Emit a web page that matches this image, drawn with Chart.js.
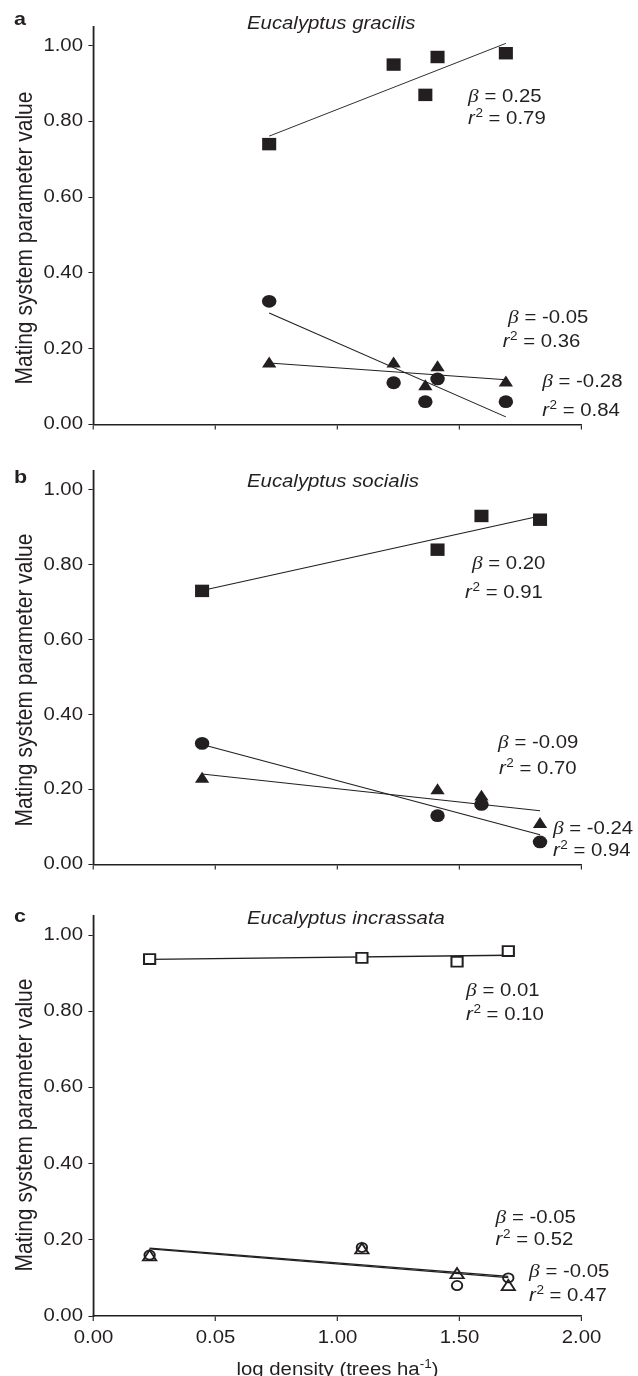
<!DOCTYPE html>
<html>
<head>
<meta charset="utf-8">
<script src="https://cdn.jsdelivr.net/npm/chart.js@4.4.0/dist/chart.umd.min.js"></script>
<style>
  html, body { margin: 0; padding: 0; background: #fff; }
  .panel { position: absolute; left: 0; width: 638px; }
  canvas { display: block; }
</style>
</head>
<body>
<div class="panel" style="top:0;height:440px"><canvas id="chartA" width="638" height="440"></canvas></div>
<div class="panel" style="top:440px;height:440px"><canvas id="chartB" width="638" height="440"></canvas></div>
<div class="panel" style="top:880px;height:496px"><canvas id="chartC" width="638" height="496"></canvas></div>
<script>
// tick labels (the 0.5 tick really reads "0.05" in the figure)
const xTickValues = [0, 0.5, 1, 1.5, 2];
const xTickLabels = ['0.00', '0.05', '1.00', '1.50', '2.00'];
const yTickValues = [0, 0.2, 0.4, 0.6, 0.8, 1.0];

// a - Eucalyptus gracilis
const gracilisX = [0.72, 1.23, 1.36, 1.41, 1.69];
const gracilisSquare = [0.74, 0.95, 0.87, 0.97, 0.98];
const gracilisCircle = [0.325, 0.11, 0.06, 0.12, 0.06];
const gracilisTriangle = [0.16, 0.16, 0.10, 0.15, 0.11];
const gracilisFitX = [0.72, 1.69];
const gracilisFitSquare = [0.761, 1.006];
const gracilisFitCircle = [0.294, 0.020];
const gracilisFitTriangle = [0.162, 0.118];
const gracilisBeta = ['0.25', '-0.05', '-0.28'];
const gracilisR2 = ['0.79', '0.36', '0.84'];

// b - Eucalyptus socialis
const socialisX = [0.445, 1.41, 1.59, 1.83];
const socialisSquare = [0.73, 0.84, 0.93, 0.92];
const socialisCircle = [0.323, 0.13, 0.16, 0.06];
const socialisTriangle = [0.228, 0.197, 0.18, 0.107];
const socialisFitX = [0.445, 1.83];
const socialisFitSquare = [0.731, 0.930];
const socialisFitCircle = [0.320, 0.079];
const socialisFitTriangle = [0.241, 0.143];
const socialisBeta = ['0.20', '-0.09', '-0.24'];
const socialisR2 = ['0.91', '0.70', '0.94'];

// c - Eucalyptus incrassata
const incrassataX = [0.23, 1.10, 1.49, 1.70];
const incrassataSquare = [0.937, 0.94, 0.93, 0.958];
const incrassataCircle = [0.16, 0.18, 0.08, 0.10];
const incrassataTriangle = [0.155, 0.173, 0.108, 0.077];
const incrassataFitX = [0.23, 1.70];
const incrassataFitSquare = [0.936, 0.947];
const incrassataFitCircle = [0.178, 0.104];
const incrassataFitTriangle = [0.176, 0.101];
const incrassataBeta = ['0.01', '-0.05', '-0.05'];
const incrassataR2 = ['0.10', '0.52', '0.47'];

const INK = '#231f20';
const FONT = '"Liberation Sans", Arial, sans-serif';
const S = 1.13;               // the printed figure is stretched sideways
const AREA_L = 93.5 / S;
const AREA_R = 581.5 / S;
const yTitle = 'Mating system parameter value';

const filled = [
  { style: 'rect', radius: 8.8, fill: INK, border: 0 },
  { style: 'circle', radius: 6.4, fill: INK, border: 0 },
  { style: 'triangle', radius: 7.3, fill: INK, border: 0 }
];
const hollow = [
  { style: 'rect', radius: 7, fill: '#fff', border: 1.8 },
  { style: 'circle', radius: 4.6, fill: 'rgba(0,0,0,0)', border: 1.7 },
  { style: 'triangle', radius: 6.8, fill: 'rgba(0,0,0,0)', border: 1.7 }
];

const panels = [
  {
    id: 'chartA', letter: 'a', species: 'Eucalyptus gracilis',
    areaTop: 26.7, axisHeight: 14, letterBase: 25, titleBase: 29.3, yTitleMid: 238,
    x: gracilisX, ys: [gracilisSquare, gracilisCircle, gracilisTriangle], marks: filled,
    fitX: gracilisFitX, fits: [gracilisFitSquare, gracilisFitCircle, gracilisFitTriangle],
    beta: gracilisBeta, r2: gracilisR2,
    betaAt: [[1.535, 0.868], [1.699, 0.284], [1.839, 0.116]],
    r2At: [[1.535, 0.811], [1.677, 0.221], [1.839, 0.039]]
  },
  {
    id: 'chartB', letter: 'b', species: 'Eucalyptus socialis',
    areaTop: 31, axisHeight: 10, letterBase: 43.3, titleBase: 46.7, yTitleMid: 240,
    x: socialisX, ys: [socialisSquare, socialisCircle, socialisTriangle], marks: filled,
    fitX: socialisFitX, fits: [socialisFitSquare, socialisFitCircle, socialisFitTriangle],
    beta: socialisBeta, r2: socialisR2,
    betaAt: [[1.551, 0.805], [1.658, 0.327], [1.883, 0.097]],
    r2At: [[1.523, 0.729], [1.662, 0.259], [1.883, 0.039]]
  },
  {
    id: 'chartC', letter: 'c', species: 'Eucalyptus incrassata',
    areaTop: 36, axisHeight: 60, letterBase: 41.7, titleBase: 44, yTitleMid: 245, xTitleBase: 495,
    x: incrassataX, ys: [incrassataSquare, incrassataCircle, incrassataTriangle], marks: hollow,
    fitX: incrassataFitX, fits: [incrassataFitSquare, incrassataFitCircle, incrassataFitTriangle],
    beta: incrassataBeta, r2: incrassataR2,
    betaAt: [[1.527, 0.858], [1.648, 0.261], [1.785, 0.119]],
    r2At: [[1.527, 0.795], [1.648, 0.202], [1.785, 0.055]]
  }
];

function statLine(ctx, x, y, sym, sup, value) {
  let cx = x;
  ctx.textAlign = 'left';
  ctx.textBaseline = 'alphabetic';
  ctx.font = sym === 'β' ? 'italic 19px "Liberation Serif"' : 'italic 18px ' + FONT;
  ctx.fillText(sym, cx, y);
  cx += ctx.measureText(sym).width;
  if (sup) {
    ctx.font = '12px ' + FONT;
    ctx.fillText(sup, cx + 0.5, y - 7);
    cx += ctx.measureText(sup).width + 0.5;
  }
  ctx.font = '18px ' + FONT;
  ctx.fillText(' = ' + value, cx, y);
}

const figureText = {
  id: 'figureText',
  beforeDraw(chart) {
    chart.ctx.save();
    chart.ctx.scale(S, 1);
  },
  afterDraw(chart) {
    const p = chart.options.plugins.figureText.panel;
    const ctx = chart.ctx;
    const sx = chart.scales.x, sy = chart.scales.y;
    ctx.fillStyle = INK;
    ctx.textAlign = 'left';
    ctx.textBaseline = 'alphabetic';

    ctx.font = 'bold 19px ' + FONT;
    ctx.fillText(p.letter, 12.4, p.letterBase);

    ctx.font = 'italic 18px ' + FONT;
    ctx.fillText(p.species, 247 / S, p.titleBase);

    ctx.save();
    ctx.translate(32 / S, p.yTitleMid);
    ctx.rotate(-Math.PI / 2);
    ctx.textAlign = 'center';
    ctx.font = '21px ' + FONT;
    ctx.fillText(yTitle, 0, 0);
    ctx.restore();

    p.beta.forEach((b, i) => {
      const [bx, by] = p.betaAt[i];
      const [rx, ry] = p.r2At[i];
      statLine(ctx, sx.getPixelForValue(bx), sy.getPixelForValue(by) + 6.4, 'β', '', b);
      statLine(ctx, sx.getPixelForValue(rx), sy.getPixelForValue(ry) + 6.4, 'r', '2', p.r2[i]);
    });

    if (p.xTitleBase) {
      const a = 'log density (trees ha', sup = '-1', c = ')';
      ctx.font = '18px ' + FONT;
      const wa = ctx.measureText(a).width, wc = ctx.measureText(c).width;
      ctx.font = '12px ' + FONT;
      const ws = ctx.measureText(sup).width;
      let x = (sx.left + sx.right) / 2 - (wa + ws + wc) / 2;
      ctx.font = '18px ' + FONT;
      ctx.fillText(a, x, p.xTitleBase);
      x += wa;
      ctx.font = '12px ' + FONT;
      ctx.fillText(sup, x, p.xTitleBase - 7);
      x += ws;
      ctx.font = '18px ' + FONT;
      ctx.fillText(c, x, p.xTitleBase);
    }
    ctx.restore();
  }
};

function makeChart(p) {
  const pts = (xs, ys) => xs.map((x, i) => ({ x: x, y: ys[i] }));
  const markSets = p.ys.map((ys, k) => ({
    data: pts(p.x, ys),
    showLine: false,
    pointStyle: p.marks[k].style,
    pointRadius: p.marks[k].radius,
    pointHoverRadius: p.marks[k].radius,
    pointBackgroundColor: p.marks[k].fill,
    pointBorderColor: INK,
    pointBorderWidth: p.marks[k].border,
    clip: false
  }));
  const fitSets = p.fits.map(f => ({
    data: pts(p.fitX, f),
    showLine: true,
    borderColor: INK,
    borderWidth: p.marks === hollow ? 1.3 : 1,
    pointRadius: 0,
    fill: false
  }));

  const tickFont = { family: FONT, size: 18 };
  new Chart(document.getElementById(p.id), {
    type: 'scatter',
    data: { datasets: markSets.concat(fitSets) },
    options: {
      responsive: false,
      animation: false,
      devicePixelRatio: 1,
      events: [],
      layout: { padding: { left: 0, top: p.areaTop, right: 638 - AREA_R, bottom: 0 } },
      plugins: {
        legend: { display: false },
        tooltip: { enabled: false },
        figureText: { panel: p }
      },
      scales: {
        x: {
          type: 'linear', min: 0, max: 2,
          afterBuildTicks: s => { s.ticks = xTickValues.map(v => ({ value: v })); },
          afterFit: s => { s.height = p.axisHeight; },
          ticks: {
            display: !!p.xTitleBase, padding: 6.5, font: tickFont, color: INK,
            maxRotation: 0, autoSkip: false,
            callback: v => xTickLabels[xTickValues.indexOf(v)]
          },
          grid: { drawOnChartArea: false, drawTicks: true, tickLength: 5, tickWidth: 1, tickColor: INK },
          border: { display: true, color: INK, width: 1.6 }
        },
        y: {
          type: 'linear', min: 0, max: 1.05,
          afterBuildTicks: s => { s.ticks = yTickValues.map(v => ({ value: v })); },
          afterFit: s => { s.width = AREA_L; },
          ticks: { padding: 4.8, font: tickFont, color: INK, callback: v => v.toFixed(2) },
          grid: { drawOnChartArea: false, drawTicks: true, tickLength: 4.5, tickWidth: 1, tickColor: INK },
          border: { display: true, color: INK, width: 1.6 }
        }
      }
    },
    plugins: [figureText]
  });
}

panels.forEach(makeChart);
</script>
</body>
</html>
